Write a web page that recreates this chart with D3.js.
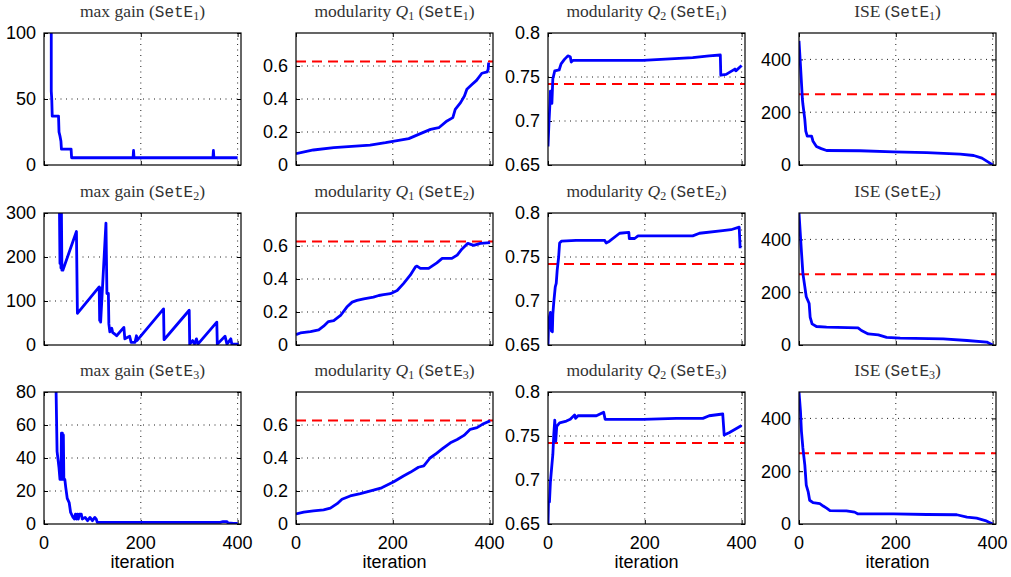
<!DOCTYPE html>
<html>
<head>
<meta charset="utf-8">
<script src="https://cdn.jsdelivr.net/npm/d3@7"></script>
<style>
body { margin: 0; background: #fff; }
svg { display: block; }
</style>
</head>
<body>
<svg width="1011" height="577"></svg>
<script>
// iteration axis
var iterTicks = [0, 200, 400];
var iterMax = 407;

// reference (dashed) levels
var refQ1 = 0.627, refQ2 = 0.742, refISE = 268;

// max gain
var gainE1 = [[15,100],[15,56],[16,50],[17,37],[30,37],[31,25],[33,22],[35,18],[36,12],[56,12],[57,5.5],[184,5.5],[185,11],[186,5.5],[349,5.5],[350,11],[351,5.5],[400,5.5]];
var gainE2 = [[32,300],[33,185],[34,300],[35,175],[36,300],[37,170],[39,170],[67,258],[69,72],[114,132],[115,56],[116,130],[117,52],[128,277],[130,117],[133,117],[134,48],[136,30],[140,38],[142,28],[146,25],[150,21],[165,40],[167,14],[177,20],[180,6],[188,6],[191,21],[192,10],[247,82],[248,12],[300,79],[301,2],[307,10],[311,2],[315,14],[318,2],[357,52],[358,2],[374,20],[378,2],[386,14],[388,2],[402,2]];
var gainE3 = [[25,80],[27,44],[31,34],[33,27],[35,27],[36,55],[37,28],[38,55],[39,27],[40,54],[41,27],[43,27],[45,22],[48,15.5],[52,13],[55,7],[60,4],[63,3],[65,6],[67,3],[69,6],[71,3],[73,6],[77,6],[79,3],[85,4],[90,2],[95,4],[100,2],[105,4],[108,3],[110,1],[364,1],[370,1.5],[378,1.5],[380,0.6],[392,0.4],[400,0.3]];

// modularity Q1
var q1E1 = [[0,0.069],[36,0.091],[78,0.105],[153,0.121],[185,0.135],[233,0.16],[257,0.19],[278,0.216],[295,0.226],[312,0.267],[324,0.287],[329,0.337],[340,0.378],[348,0.418],[353,0.459],[364,0.489],[373,0.513],[384,0.556],[395,0.564],[397,0.58],[398,0.62]];
var q1E2 = [[0,0.063],[9,0.073],[30,0.081],[47,0.092],[57,0.114],[67,0.142],[78,0.148],[92,0.179],[105,0.23],[116,0.26],[126,0.27],[140,0.28],[160,0.29],[171,0.30],[181,0.305],[195,0.311],[209,0.33],[222,0.372],[236,0.423],[247,0.474],[250,0.478],[257,0.464],[274,0.464],[284,0.484],[291,0.498],[302,0.525],[322,0.525],[333,0.545],[343,0.582],[355,0.616],[367,0.604],[381,0.616],[401,0.62]];
var q1E3 = [[0,0.061],[16,0.072],[36,0.08],[57,0.086],[71,0.096],[85,0.123],[95,0.15],[112,0.17],[133,0.184],[160,0.205],[177,0.219],[202,0.256],[222,0.291],[236,0.313],[253,0.344],[264,0.352],[277,0.4],[291,0.43],[302,0.455],[319,0.492],[333,0.512],[347,0.537],[360,0.574],[374,0.584],[385,0.604],[401,0.625]];

// modularity Q2
var q2E1 = [[0,0.671],[2,0.698],[4,0.72],[5,0.734],[7,0.734],[8,0.72],[10,0.748],[14,0.757],[23,0.758],[27,0.765],[34,0.77],[41,0.774],[46,0.773],[48,0.767],[52,0.769],[196,0.769],[299,0.772],[333,0.774],[356,0.775],[357,0.752],[368,0.753],[386,0.759],[388,0.757],[400,0.763]];
var q2E2 = [[0,0.65],[1,0.67],[3,0.682],[5,0.687],[7,0.666],[9,0.665],[10,0.685],[12,0.699],[15,0.716],[17,0.72],[19,0.735],[22,0.75],[24,0.766],[28,0.768],[58,0.769],[117,0.769],[120,0.766],[127,0.768],[148,0.777],[167,0.778],[168,0.771],[179,0.771],[186,0.774],[265,0.774],[299,0.774],[313,0.777],[361,0.78],[378,0.781],[395,0.784],[397,0.76]];
var q2E3 = [[0,0.65],[1,0.675],[3,0.675],[5,0.698],[8,0.717],[10,0.729],[12,0.752],[14,0.768],[16,0.744],[18,0.761],[24,0.765],[38,0.767],[46,0.769],[55,0.774],[57,0.77],[62,0.773],[100,0.773],[115,0.777],[118,0.769],[196,0.769],[265,0.77],[320,0.77],[333,0.773],[361,0.775],[364,0.751],[375,0.754],[400,0.762]];

// ISE
var iseE1 = [[0,470],[3,378],[7,250],[8,231],[12,173],[14,128],[17,109],[26,109],[29,90],[36,70],[46,62],[57,55],[126,54],[195,50],[264,47],[333,41],[361,36],[378,26],[392,10],[400,0]];
var iseE2 = [[0,500],[3,413],[5,355],[8,272],[12,221],[15,183],[21,157],[23,106],[27,80],[36,70],[57,68],[122,65],[129,55],[143,42],[164,38],[181,29],[209,26],[298,23],[347,17],[388,11],[400,0]];
var iseE3 = [[0,500],[3,429],[5,352],[8,288],[12,224],[15,147],[19,122],[22,90],[29,81],[43,77],[50,68],[57,60],[64,51],[98,50],[115,45],[122,38],[195,38],[264,36],[326,35],[347,26],[367,22],[385,13],[400,0]];

var gainDomains = [[0,100],[0,300],[0,80]];
var gainTicks = [[0,50,100],[0,100,200,300],[0,20,40,60,80]];
var q1Ticks = [0,0.2,0.4,0.6];
var q2Ticks = [0.65,0.7,0.75,0.8];
var iseTicks = [0,200,400];

var colLeft = [44, 296, 548, 799];
var rowTop = [33, 213, 392];
var W = 197, H = 132;

var gainData = [gainE1, gainE2, gainE3];
var q1Data = [q1E1, q1E2, q1E3];
var q2Data = [q2E1, q2E2, q2E3];
var iseData = [iseE1, iseE2, iseE3];

var panels = [];
for (var r = 0; r < 3; r++) {
  panels.push({row:r, col:0, name:"max gain", q:null, data:gainData[r], dom:gainDomains[r], ticks:gainTicks[r], ref:null});
  panels.push({row:r, col:1, name:"modularity", q:"1", data:q1Data[r], dom:[0,0.8], ticks:q1Ticks, ref:refQ1});
  panels.push({row:r, col:2, name:"modularity", q:"2", data:q2Data[r], dom:[0.65,0.8], ticks:q2Ticks, ref:refQ2});
  panels.push({row:r, col:3, name:"ISE", q:null, data:iseData[r], dom:[0,500], ticks:iseTicks, ref:refISE});
}

var svg = d3.select("svg");
var defs = svg.append("defs");

panels.forEach(function(p, i) {
  var x0 = colLeft[p.col], y0 = rowTop[p.row];
  var x = d3.scaleLinear().domain([0, iterMax]).range([0, W]);
  var y = d3.scaleLinear().domain(p.dom).range([H, 0]);
  var g = svg.append("g").attr("transform", "translate(" + x0 + "," + y0 + ")");

  defs.append("clipPath").attr("id", "clip" + i)
    .append("rect").attr("width", W).attr("height", H);

  // dotted grid
  g.selectAll(".gx").data(iterTicks.filter(d => d > 0)).enter().append("line")
    .attr("x1", d => x(d)).attr("x2", d => x(d)).attr("y1", 0).attr("y2", H)
    .attr("stroke", "#000").attr("stroke-width", 0.9).attr("stroke-dasharray", "1,4.5");
  g.selectAll(".gy").data(p.ticks.filter(d => y(d) > 1 && y(d) < H - 1)).enter().append("line")
    .attr("x1", 0).attr("x2", W).attr("y1", d => y(d)).attr("y2", d => y(d))
    .attr("stroke", "#000").attr("stroke-width", 0.9).attr("stroke-dasharray", "1,4.5");

  // ticks on all sides, pointing in
  g.append("g").attr("transform", "translate(0," + H + ")")
    .call(d3.axisBottom(x).tickValues(iterTicks).tickSizeInner(-4).tickSizeOuter(0).tickFormat(""));
  g.append("g").call(d3.axisTop(x).tickValues(iterTicks).tickSizeInner(-4).tickSizeOuter(0).tickFormat(""));
  g.append("g").call(d3.axisLeft(y).tickValues(p.ticks).tickSizeInner(-4).tickSizeOuter(0).tickFormat(""));
  g.append("g").attr("transform", "translate(" + W + ",0)")
    .call(d3.axisRight(y).tickValues(p.ticks).tickSizeInner(-4).tickSizeOuter(0).tickFormat(""));
  g.selectAll(".domain").remove();
  g.selectAll(".tick line").attr("stroke", "#000");

  // y tick labels
  g.selectAll(".yl").data(p.ticks).enter().append("text")
    .attr("x", -8).attr("y", d => y(d)).attr("dy", "0.36em")
    .attr("text-anchor", "end")
    .style("font-family", "Liberation Sans, Arial, sans-serif").style("font-size", "18px")
    .text(d => String(d));

  // reference line
  if (p.ref !== null) {
    g.append("line").attr("x1", 0).attr("x2", W).attr("y1", y(p.ref)).attr("y2", y(p.ref))
      .attr("stroke", "#ff0000").attr("stroke-width", 2).attr("stroke-dasharray", "10,6");
  }

  // series
  var line = d3.line().x(d => x(d[0])).y(d => y(d[1]));
  g.append("path").datum(p.data).attr("d", line)
    .attr("clip-path", "url(#clip" + i + ")")
    .attr("fill", "none").attr("stroke", "#0000ff").attr("stroke-width", 2.8)
    .attr("stroke-linejoin", "round");

  // box
  g.append("rect").attr("width", W).attr("height", H)
    .attr("fill", "none").attr("stroke", "#000").attr("stroke-width", 1.2);

  // title
  var t = g.append("text").attr("x", W / 2).attr("y", -16).attr("text-anchor", "middle")
    .style("font-family", "Liberation Serif, Times New Roman, serif").style("font-size", "17.5px")
    .attr("fill", "#333");
  t.append("tspan").text(p.name + " ");
  if (p.q) {
    t.append("tspan").style("font-style", "italic").text("Q");
    t.append("tspan").attr("dy", 3).style("font-size", "12px").text(p.q);
    t.append("tspan").attr("dy", -3).text(" (");
  } else {
    t.append("tspan").text("(");
  }
  t.append("tspan").style("font-family", "Liberation Mono, monospace").style("font-size", "16px").text("SetE");
  t.append("tspan").attr("dy", 3).style("font-size", "12px").text(String(p.row + 1));
  t.append("tspan").attr("dy", -3).text(")");

  // x tick labels on bottom row
  if (p.row === 2) {
    g.selectAll(".xl").data(iterTicks).enter().append("text")
      .attr("x", d => x(d)).attr("y", H + 25).attr("text-anchor", "middle")
      .style("font-family", "Liberation Sans, Arial, sans-serif").style("font-size", "18px")
      .text(d => String(d));
    g.append("text").attr("x", W / 2).attr("y", H + 44).attr("text-anchor", "middle")
      .style("font-family", "Liberation Sans, Arial, sans-serif").style("font-size", "18px")
      .text("iteration");
  }
});
</script>
</body>
</html>
